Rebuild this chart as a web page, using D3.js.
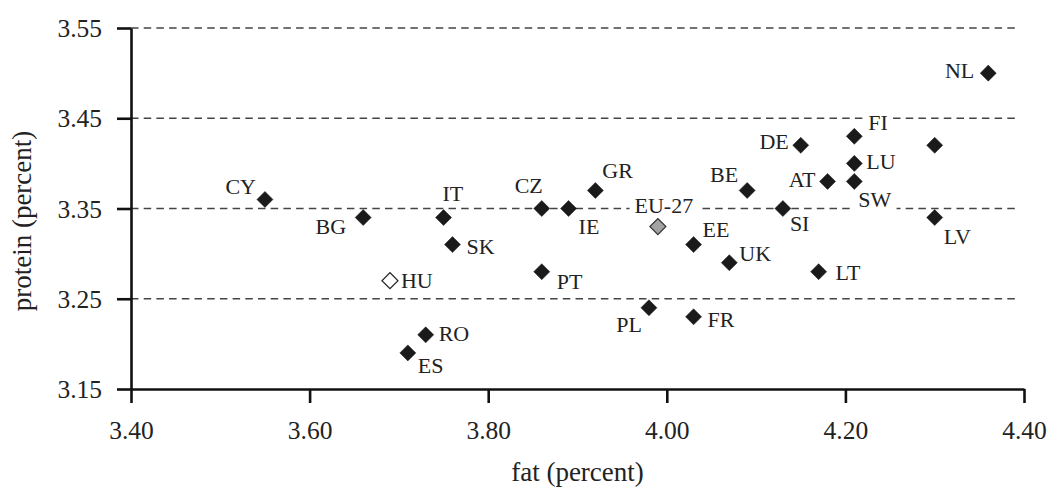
<!DOCTYPE html>
<html>
<head>
<meta charset="utf-8">
<script src="https://cdn.jsdelivr.net/npm/d3@7"></script>
<style>
  html, body { margin: 0; padding: 0; background: #fff; }
  svg { display: block; }
  text { font-family: "Liberation Serif", "Times New Roman", serif; fill: #222; }
</style>
</head>
<body>
<svg id="chart" width="1052" height="487"></svg>
<script>
// ---- data ----
const countries = ["CY","BG","IT","SK","HU","RO","ES","CZ","IE","GR","PT","PL","FR","EU-27","EE","UK","BE","SI","DE","AT","FI","LU","SW","LT","NL","","LV"];
const fat =       [3.55,3.66,3.75,3.76,3.69,3.73,3.71,3.86,3.89,3.92,3.86,3.98,4.03,3.99,4.03,4.07,4.09,4.13,4.15,4.18,4.21,4.21,4.21,4.17,4.36,4.30,4.30];
const protein =   [3.36,3.34,3.34,3.31,3.27,3.21,3.19,3.35,3.35,3.37,3.28,3.24,3.23,3.33,3.31,3.29,3.37,3.35,3.42,3.38,3.43,3.40,3.38,3.28,3.50,3.42,3.34];
const markerType = ["b","b","b","b","w","b","b","b","b","b","b","b","b","g","b","b","b","b","b","b","b","b","b","b","b","b","b"];
const xTicks = [3.40, 3.60, 3.80, 4.00, 4.20, 4.40];
const yTicks = [3.15, 3.25, 3.35, 3.45, 3.55];
const gridValues = [3.25, 3.35, 3.45, 3.55];
const xTitle = "fat (percent)";
const yTitle = "protein (percent)";

// ---- label layout (dx, dy in px relative to the marker, anchor) ----
const labelLayout = {
  "CY": [-9, -5, "end"], "BG": [-17, 16, "end"], "IT": [-1, -17, "start"],
  "SK": [14, 9, "start"], "HU": [11, 7, "start"], "RO": [13, 6, "start"],
  "ES": [10, 20, "start"], "CZ": [1, -16, "end"], "IE": [10, 25, "start"],
  "GR": [7, -12, "start"], "PT": [15, 17, "start"], "PL": [-7, 24, "end"],
  "FR": [14, 10, "start"], "EU-27": [6, -14, "middle"], "EE": [9, -8, "start"],
  "UK": [10, -2, "start"], "BE": [-9, -8, "end"], "SI": [7, 22, "start"],
  "DE": [-12, 4, "end"], "AT": [-12, 6, "end"], "FI": [14, -6, "start"],
  "LU": [12, 6, "start"], "SW": [4, 26, "start"], "LT": [17, 8, "start"],
  "NL": [-14, 5, "end"], "LV": [9, 26, "start"]
};

const svg = d3.select("#chart");
const mLeft = 131, mRight = 1024, mTop = 28, mBottom = 389;

const x = d3.scaleLinear().domain([3.40, 4.40]).range([mLeft, mRight]);
const y = d3.scaleLinear().domain([3.15, 3.55]).range([mBottom, mTop]);

// gridlines
svg.append("g")
  .selectAll("line")
  .data(gridValues)
  .join("line")
  .attr("x1", mLeft)
  .attr("x2", mRight - 5)
  .attr("y1", d => y(d))
  .attr("y2", d => y(d))
  .attr("stroke", "#444")
  .attr("stroke-width", 1.3)
  .attr("stroke-dasharray", "7.5,5.2");

// axes
const xAxis = d3.axisBottom(x).tickValues(xTicks).tickFormat(d3.format(".2f")).tickSizeInner(14).tickSizeOuter(0).tickPadding(18);
const yAxis = d3.axisLeft(y).tickValues(yTicks).tickFormat(d3.format(".2f")).tickSizeInner(14).tickSizeOuter(0).tickPadding(15);

const gx = svg.append("g").attr("transform", `translate(0,${mBottom})`).call(xAxis);
const gy = svg.append("g").attr("transform", `translate(${mLeft},0)`).call(yAxis);

[gx, gy].forEach(g => {
  g.select(".domain").attr("stroke", "#111").attr("stroke-width", 2.6);
  g.selectAll(".tick line").attr("stroke", "#111").attr("stroke-width", 2.6);
  g.selectAll(".tick text")
    .attr("font-family", '"Liberation Serif", "Times New Roman", serif')
    .attr("font-size", 25.5)
    .attr("fill", "#222");
});
gx.selectAll(".tick text").attr("dy", "0.71em");
gy.selectAll(".tick text").attr("dy", "0.34em");

// axis titles
svg.append("text")
  .attr("x", (mLeft + mRight) / 2)
  .attr("y", 481)
  .attr("text-anchor", "middle")
  .attr("font-size", 27)
  .text(xTitle);

svg.append("text")
  .attr("transform", `translate(31,221) rotate(-90)`)
  .attr("text-anchor", "middle")
  .attr("font-size", 27)
  .text(yTitle);

// points
const pts = countries.map((c, i) => ({ c, fx: fat[i], p: protein[i], t: markerType[i] }));
const diamond = d3.symbol(d3.symbolSquare, 128)();

// labels (with white background boxes, as in the reference)
const labelG = svg.append("g");
const lbl = labelG.selectAll("g")
  .data(pts.filter(d => d.c && labelLayout[d.c]))
  .join("g");
const lblText = lbl.append("text")
  .attr("x", d => x(d.fx) + labelLayout[d.c][0])
  .attr("y", d => y(d.p) + labelLayout[d.c][1])
  .attr("text-anchor", d => labelLayout[d.c][2])
  .attr("font-size", 22)
  .text(d => d.c);
lbl.each(function() {
  const g = d3.select(this);
  const b = g.select("text").node().getBBox();
  g.insert("rect", "text")
    .attr("x", b.x - 5).attr("y", b.y + 2)
    .attr("width", b.width + 10).attr("height", b.height - 4)
    .attr("fill", "#fff");
});

svg.append("g")
  .selectAll("path")
  .data(pts)
  .join("path")
  .attr("d", diamond)
  .attr("transform", d => `translate(${x(d.fx)},${y(d.p)}) rotate(45)`)
  .attr("fill", d => d.t === "w" ? "#fff" : d.t === "g" ? "#a3a3a3" : "#1a1a1a")
  .attr("stroke", d => d.t === "w" ? "#222" : d.t === "g" ? "#333" : "#1a1a1a")
  .attr("stroke-width", d => d.t === "b" ? 0.5 : 1.2);
</script>
</body>
</html>
